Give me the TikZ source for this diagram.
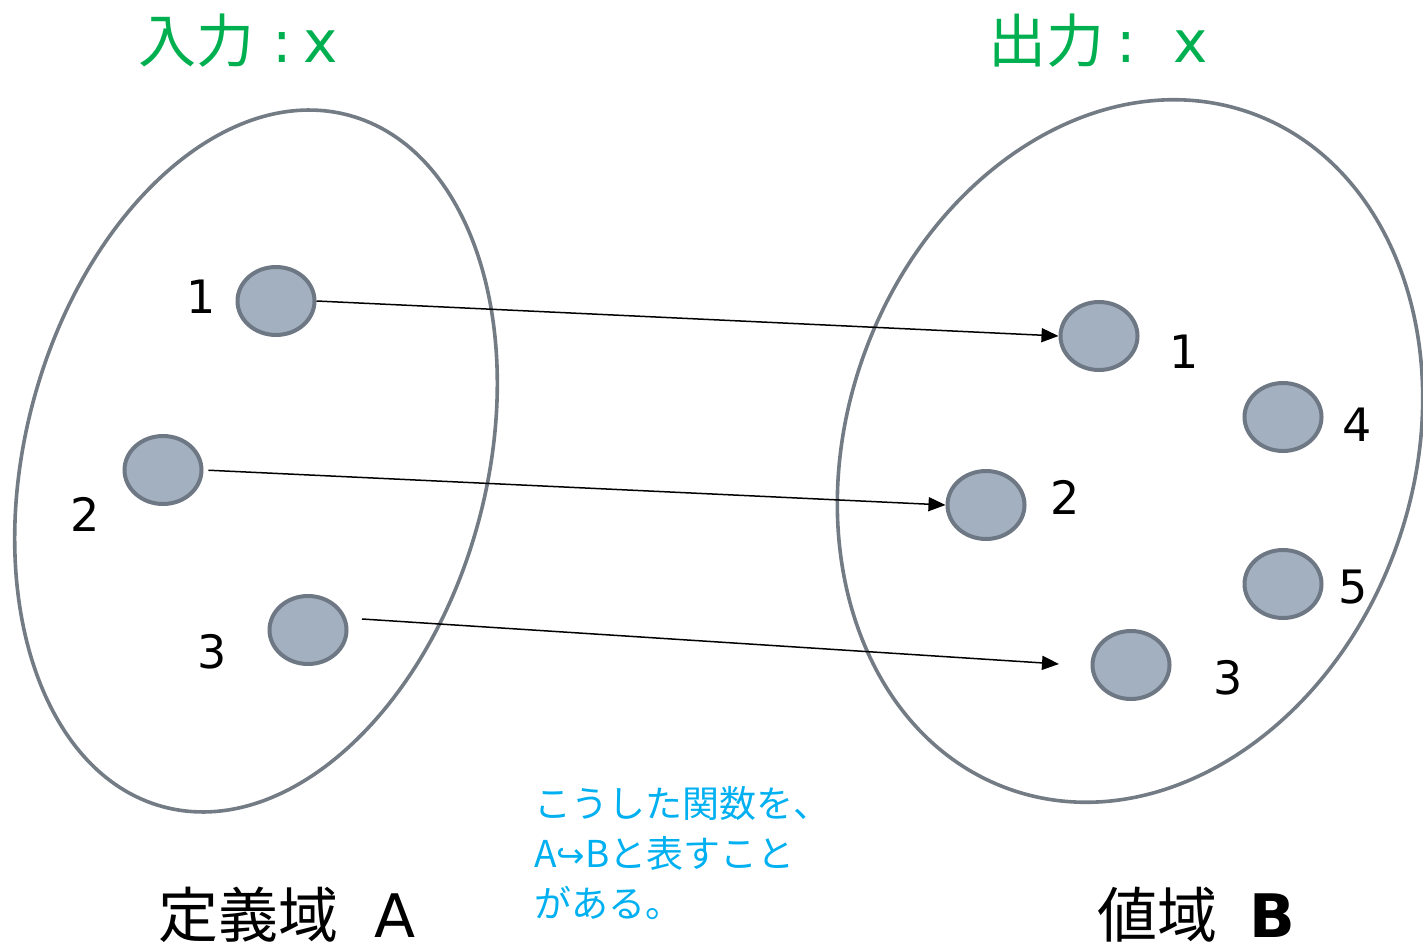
\documentclass[tikz,border=0pt]{standalone}
\usepackage{fontspec}
\setmainfont{DejaVu Sans}
\newfontfamily\jp{Noto Sans CJK JP}
\usetikzlibrary{shapes.geometric,arrows.meta}
\definecolor{dotfill}{HTML}{A2B0BF}
\definecolor{dotline}{HTML}{6E7784}
\definecolor{setline}{HTML}{737B85}
\definecolor{ttl}{HTML}{00B050}
\definecolor{note}{HTML}{00B0F0}
\tikzset{
  dot/.style={ellipse, draw=dotline, fill=dotfill, line width=4pt,
    minimum width=77pt, minimum height=68pt, inner sep=0pt},
  lbl/.style={font=\fontsize{46}{50}\selectfont, anchor=base, inner sep=0pt},
  setshape/.style={draw=setline, line width=3.6pt},
  mapto/.style={-{Triangle[length=17pt,width=14pt]}, line width=1.5pt},
  ttltext/.style={text=ttl, anchor=base west, inner sep=0pt, font=\fontsize{58}{60}\selectfont},
  bottext/.style={text=black, anchor=base west, inner sep=0pt, font=\fontsize{60}{62}\selectfont},
}
\begin{document}
\begin{tikzpicture}[x=1pt,y=1pt]
\useasboundingbox (0,0) rectangle (1423,-949);
% sets
\draw[setshape, rotate around={-15:(256,-461)}] (256,-461) ellipse [x radius=230.6, y radius=358];
\draw[setshape, rotate around={-19.7:(1130,-451)}] (1130,-451) ellipse [x radius=283, y radius=359];
% elements
\node[dot] (l1) at (276,-301) {};
\node[dot] (l2) at (163,-470) {};
\node[dot] (l3) at (308,-630) {};
\node[dot] (r1) at (1099,-336) {};
\node[dot] (r2) at (986,-505) {};
\node[dot] (r3) at (1131,-665) {};
\node[dot] (r4) at (1283,-417) {};
\node[dot] (r5) at (1283,-584) {};
% labels
\node[lbl] (tl1) at (201,-314) {1};
\node[lbl] (tl2) at (85,-531) {2};
\node[lbl] (tl3) at (212,-668) {3};
\node[lbl] (tr1) at (1184,-368) {1};
\node[lbl] (tr2) at (1065,-514) {2};
\node[lbl] (tr3) at (1228,-694) {3};
\node[lbl] (tr4) at (1357,-441) {4};
\node[lbl] (tr5) at (1353,-603) {5};
% arrows
\coordinate (a3s) at (362,-619);
\coordinate (a3e) at (1059,-664);
\draw[mapto] (l1.east) -- (r1.west);
\draw[mapto, shorten <=5pt] (l2.east) -- (r2.west);
\draw[mapto] (a3s) -- (a3e);
% titles
\node[ttltext] (tin) at (138,-63) {{\jp 入力}\hspace{18pt}:\hspace{12pt}x};
\node[ttltext] (tout) at (988,-63) {{\jp 出力}\hspace{12pt}:\hspace{38pt}x};
% bottom captions
\node[bottext] (capA) at (158,-937) {{\jp 定義域}\hspace{36pt}A};
\node[bottext] (capB) at (1097,-937) {{\jp 値域}\hspace{32pt}\textbf{B}};
% note
\node[text=note, anchor=north west, inner sep=0pt, align=left,
  font=\jp\fontsize{37}{50}\selectfont] (note) at (534,-786)
  {こうした関数を、\\A{\rmfamily\fontsize{34}{36}\selectfont ↪}Bと表すこと\\がある。};
\end{tikzpicture}
\end{document}
